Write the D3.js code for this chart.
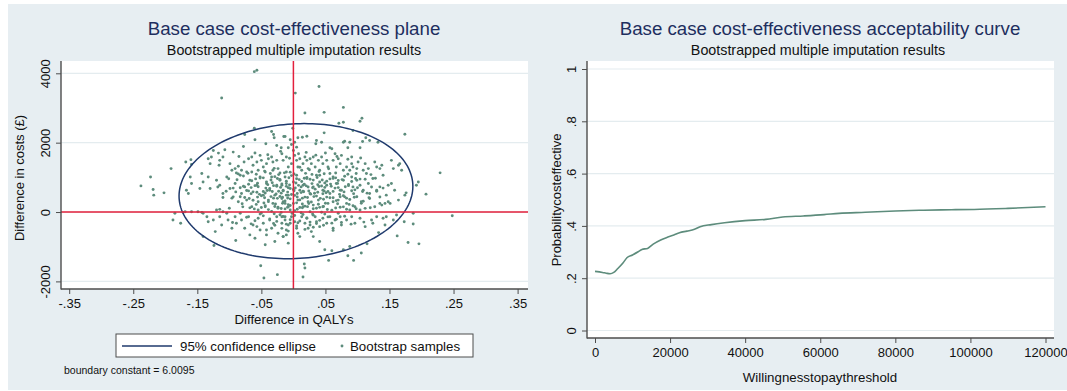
<!DOCTYPE html>
<html><head><meta charset="utf-8">
<script src="https://cdn.jsdelivr.net/npm/d3@7"></script>
<style>
body{margin:0;background:#fff}
svg{display:block}
text{font-family:"Liberation Sans",Arial,Helvetica,sans-serif}
</style>
</head><body>
<svg id="chart" width="1067" height="391"></svg>
<script>
// ---------- data ----------
const qalyTicks = [-0.35,-0.25,-0.15,-0.05,0.05,0.15,0.25,0.35];
const qalyTickLabels = ["-.35","-.25","-.15","-.05",".05",".15",".25",".35"];
const costTicks = [-2000,0,2000,4000];
const costTickLabels = ["-2000","0","2000","4000"];
const wtpTicks = [0,20000,40000,60000,80000,100000,120000];
const probTicks = [0,0.2,0.4,0.6,0.8,1];
const probTickLabels = ["0",".2",".4",".6",".8","1"];

// CEAC
const wtp = [0,2000,3000,4000,5000,6000,7500,8500,10000,11500,12500,14000,15500,17500,19000,21000,22500,24500,26500,28000,31000,34500,40000,45500,50000,55500,61000,65000,72000,80000,87500,95000,101000,110000,120000];
const probCE = [0.226,0.222,0.219,0.217,0.222,0.236,0.259,0.278,0.289,0.301,0.310,0.314,0.330,0.346,0.355,0.365,0.374,0.380,0.387,0.397,0.405,0.412,0.420,0.425,0.434,0.438,0.443,0.448,0.452,0.457,0.460,0.462,0.463,0.467,0.473];

// 95% confidence ellipse (QALY, cost)
const ellipseCentre = [0.004, 602];
const ellipseSemiAxes = [0.1825, 1943];
const ellipseCostShear = 140;

// bootstrap samples [difference in QALYs, difference in costs]
const bootstrapSamples = [
[-0.061,4048],[-0.057,4088],[-0.112,3286],[0.003,3429],[0.040,3619],[0.018,2856],[0.048,2874],[0.078,3017],[0.071,2559],[0.078,2588],[0.104,2617],[0.107,2703],[0.174,2244],[0.229,1130],[0.248,-105],[0.207,516],[0.195,868],[0.192,774],[0.176,553],[0.174,487],[0.187,-37],[0.187,-344],[0.173,-278],[0.179,-879],[0.196,-917],[0.162,-688],[0.133,-593],[0.115,-917],[0.094,-1395],[0.106,-1183],[0.085,-1261],[0.078,-1089],[0.088,-994],[0.055,-1395],[0.060,-1117],[0.049,-1089],[0.017,-1499],[0.018,-1613],[0.015,-1871],[0.041,-851],[0.031,-708],[0.028,-564],[0.023,-467],[0.010,-708],[0.007,-610],[-0.016,-708],[-0.011,-659],
[-0.238,754],[-0.223,1011],[-0.219,650],[-0.218,487],[-0.202,553],[-0.188,-229],[-0.176,-324],[-0.141,-708],[-0.124,-965],[-0.090,-822],[-0.051,-1547],[-0.046,-1900],[-0.025,-1805],[-0.191,1252],
[-0.061,2415],[-0.034,2321],[-0.031,2235],[-0.030,2140],[-0.076,2235],[-0.060,2083],[-0.043,1968],[-0.026,1920],[-0.015,2177],[-0.019,1853],[-0.078,1891],[-0.094,1728],[-0.107,1796],[-0.117,1699],[-0.125,1776],[-0.133,1538],[-0.128,1585],[-0.130,1395],[-0.115,1490],[-0.116,1347],[-0.110,1585],[-0.160,1510],[-0.168,1441],[-0.159,1375],
[-0.099,1395],[-0.091,1252],[-0.086,1318],[-0.081,1203],[-0.077,1441],[-0.070,1538],[-0.065,1585],[-0.063,1347],[-0.057,1441],[-0.052,1633],[-0.050,1490],[-0.047,1298],[-0.042,1395],[-0.039,1538],[-0.034,1585],[-0.032,1441],[-0.026,1490],[-0.024,1252],[-0.018,1682],[-0.016,1490],[-0.011,1585],[-0.008,1298],[-0.073,1155],[-0.065,1155],[-0.055,1203],[-0.044,1155],[-0.032,1203],[-0.021,1126],[-0.011,1155],[-0.089,1126],[-0.096,1203],
[-0.001,2415],[0.093,2350],[0.048,2283],[0.021,2186],[0.014,2157],[0.007,2140],[-0.013,2177],[-0.005,2083],[-0.003,1948],[0.002,2014],[0.005,1871],[-0.008,1853],[0.000,1776],
[0.036,2063],[0.035,1968],[0.044,2014],[0.057,1853],[0.060,1825],[0.078,2014],[0.080,2043],[0.088,2014],[0.085,1853],[0.104,1853],[0.108,2034],[0.113,2140],[0.119,2063],[0.132,2014],[0.091,1585],
[-0.003,1395],[0.002,1633],[0.005,1490],[0.007,1298],[0.010,1538],[0.013,1203],[0.015,1395],[0.018,1585],[0.021,1490],[0.023,1252],[0.026,1538],[0.028,1395],[0.031,1585],[0.034,1298],[0.039,1490],[0.041,1203],[0.044,1585],[0.046,1395],[0.052,1490],[0.054,1298],[0.062,1490],[0.065,1682],[0.067,1298],[0.070,1538],[0.073,1395],[0.075,1633],[0.078,1203],[0.083,1298],[0.088,1203],[0.091,1395],[0.093,1298],[0.099,1252],[0.101,1441],[0.109,1203],[0.112,1395],[0.117,1252],[0.127,1441],[0.130,1298],[0.135,1252],[0.138,1347],[0.156,1252],[0.164,1347],[0.169,1203],[0.166,1395],[0.153,1490],
[-0.167,630],[-0.164,535],[-0.161,1011],[-0.159,822],[-0.146,679],[-0.143,1109],[-0.141,868],[-0.133,1011],[-0.130,679],[-0.120,917],[-0.115,774],[-0.110,535],[-0.104,1011],[-0.099,679],[-0.094,438],[-0.091,822],[-0.086,295],[-0.083,1060],[-0.081,535],[-0.076,725],[-0.073,344],[-0.068,917],[-0.065,152],[-0.063,582],[-0.057,774],[-0.055,295],[-0.052,1011],[-0.047,487],[-0.044,152],[-0.042,822],[-0.039,344],[-0.037,630],[-0.034,1011],[-0.032,249],[-0.029,487],[-0.026,774],[-0.024,106],[-0.021,917],[-0.018,392],[-0.016,630],[-0.013,249],[-0.011,822],[-0.008,487],[-0.005,57],
[-0.185,-37],[-0.169,9],[-0.159,9],[-0.149,9],[-0.141,-37],[-0.135,-135],[-0.133,-278],[-0.125,-229],[-0.122,-564],[-0.115,-135],[-0.112,-372],[-0.104,-37],[-0.102,-229],[-0.096,-467],[-0.091,-135],[-0.089,-324],[-0.083,-37],[-0.081,-229],[-0.076,-467],[-0.070,-135],[-0.068,-659],[-0.063,-372],[-0.060,-754],[-0.055,-181],[-0.052,-516],[-0.047,-324],[-0.044,-945],[-0.042,-659],[-0.037,-229],[-0.034,-467],[-0.029,-851],[-0.026,-135],[-0.024,-610],[-0.018,-324],[-0.016,-708],[-0.013,-135],[-0.011,-516],[-0.008,-897],[-0.005,-324],
[-0.120,57],[-0.115,77],[-0.110,9],[-0.143,-9],[-0.172,-9],
[0.153,822],[0.148,774],[0.135,725],[0.130,630],[0.119,535],[0.109,630],[0.104,774],[0.093,725],[0.099,917],[0.091,1011],[0.114,1109],[0.124,965],[0.140,1060],[0.145,487],[0.135,249],[0.138,200],[0.143,249],[0.148,295],[0.127,152],[0.119,392],[0.106,295],[0.096,152],[0.088,57],[0.083,249],[0.080,438],[0.073,630],[0.067,822],[0.062,1011],[0.057,1109],[0.052,774],[0.046,630],[0.041,868],[0.036,1060],[0.031,725],[0.026,535],[0.021,965],[0.015,774],[0.010,630],[0.005,1060],[0.000,868],[-0.005,679],[-0.011,487],[-0.013,1011],[-0.018,774],[0.070,344],[0.062,295],[0.054,249],[0.046,152],[0.039,344],[0.031,200],[0.023,295],[0.015,152],[0.007,344],[0.000,249],[-0.008,152],[-0.016,295],[0.104,57],[0.112,106],[0.057,535],[0.078,917],[0.117,822],[0.158,630],[0.151,249],[0.164,344],
[-0.018,-135],[-0.013,-229],[-0.008,-372],[-0.003,-135],[0.002,-278],[0.005,-467],[0.013,-135],[0.018,-324],[0.021,-181],[0.026,-372],[0.034,-135],[0.036,-278],[0.041,-421],[0.046,-181],[0.052,-324],[0.057,-135],[0.062,-467],[0.065,-229],[0.073,-135],[0.075,-372],[0.083,-229],[0.091,-135],[0.096,-324],[0.104,-181],[0.112,-421],[0.122,-229],[0.124,-324],[0.130,-135],[0.140,-181],[0.143,-372],[0.145,-135],[0.156,-229],[0.161,-86],
[-0.078,1040],[-0.065,900],[-0.052,980],[-0.042,870],[-0.029,1020],[-0.021,940],[-0.011,890],[-0.003,1050],[0.005,960],[0.013,880],[0.021,1000],[0.031,920],[0.041,1060],[0.052,890],[0.062,970],[0.070,910],[0.080,1030],[0.091,880],[0.104,950],
[-0.083,700],[-0.073,620],[-0.060,760],[-0.047,590],[-0.037,680],[-0.026,740],[-0.016,610],[-0.008,700],[0.000,650],[0.008,770],[0.015,600],[0.023,720],[0.034,660],[0.044,750],[0.054,590],[0.065,690],[0.075,630],[0.086,760],[0.096,640],
[-0.076,420],[-0.063,340],[-0.050,470],[-0.039,300],[-0.031,400],[-0.021,450],[-0.013,320],[-0.005,380],[0.002,480],[0.010,350],[0.018,430],[0.028,290],[0.036,460],[0.047,370],[0.057,410],[0.067,330],[0.078,470],[0.088,360],[0.099,440],[0.109,310],
[-0.068,120],[-0.055,60],[-0.044,180],[-0.034,20],[-0.024,140],[-0.013,90],[-0.005,190],[0.002,40],[0.010,130],[0.018,170],[0.026,10],[0.036,110],[0.047,160],[0.060,50],[0.073,140],[0.083,80],[0.093,180],
[-0.073,-150],[-0.060,-250],[-0.047,-110],[-0.037,-200],[-0.026,-270],[-0.016,-130],[-0.005,-220],[0.002,-100],[0.010,-260],[0.021,-170],[0.031,-90],[0.041,-240],[0.054,-140],[0.067,-210],[0.080,-120],
[-0.057,-420],[-0.042,-520],[-0.029,-380],[-0.018,-470],[-0.008,-550],[0.005,-400],[0.018,-500],[0.031,-440],[0.047,-380],[0.062,-530],
[-0.045,1180],[-0.030,1260],[-0.005,1150],[0.010,1290],[0.025,1220],[0.040,1170],[0.055,1250],
[-0.070,800],[-0.056,830],[-0.040,790],[-0.033,845],[-0.018,810],[-0.006,780],[0.004,835],[0.017,800],[0.029,820],[0.038,790],[0.049,840],[0.058,805],[0.069,825],[0.086,795],
[-0.066,530],[-0.053,510],[-0.044,550],[-0.027,520],[-0.019,545],[-0.003,505],[0.006,535],[0.012,560],[0.027,515],[0.033,540],[0.046,525],[0.051,555],[0.072,510],[0.094,530],[0.115,545],
[-0.080,240],[-0.058,220],[-0.046,260],[-0.028,230],[-0.017,250],[-0.008,215],[0.005,265],[0.014,235],[0.024,245],[0.039,225],[0.050,255],[0.069,240],[0.087,220],[0.106,250],
[-0.050,-30],[-0.030,-50],[-0.019,-10],[-0.002,-40],[0.012,-20],[0.030,-55],[0.044,-5],[0.070,-35],
[-0.086,1100],[-0.071,1120],[-0.058,1090],[-0.036,1110],[-0.023,1080],[-0.014,1130],[0.001,1095],[0.019,1115],[0.029,1085],[0.048,1105],[0.066,1125],[0.085,1090],[0.098,1110],[0.121,1080],
[-0.101,960],[-0.088,930],[-0.059,955],[-0.047,985],[-0.035,925],[-0.025,965],[-0.007,990],[0.009,935],[0.017,975],[0.026,945],[0.037,995],[0.045,925],[0.057,955],[0.066,985],[0.076,935],[0.097,965],[0.112,945],[0.128,975],
[-0.118,720],[-0.094,690],[-0.078,745],[-0.066,705],[-0.055,730],[-0.043,690],[-0.031,760],[-0.020,710],[-0.011,740],[0.003,695],[0.012,725],[0.020,755],[0.030,700],[0.040,735],[0.049,710],[0.059,745],[0.070,705],[0.081,730],[0.100,700],[0.122,720],[0.140,690],
[-0.105,600],[-0.090,580],[-0.070,610],[-0.057,570],[-0.041,620],[-0.033,590],[-0.023,600],[-0.009,575],[0.001,615],[0.016,585],[0.024,605],[0.038,570],[0.048,610],[0.062,595],[0.079,580],[0.091,615],[0.108,590],[0.130,600],
[-0.110,420],[-0.096,400],[-0.083,440],[-0.069,390],[-0.056,430],[-0.045,410],[-0.035,445],[-0.025,395],[-0.017,425],[-0.009,405],[0.006,435],[0.014,400],[0.022,420],[0.032,445],[0.042,395],[0.052,430],[0.062,410],[0.073,440],[0.083,400],[0.095,425],[0.118,415],[0.135,435],
[-0.100,110],[-0.079,150],[-0.061,90],[-0.050,130],[-0.039,70],[-0.029,160],[-0.019,100],[-0.009,140],[0.006,80],[0.014,120],[0.022,155],[0.031,95],[0.041,135],[0.053,75],[0.066,115],[0.078,150],[0.098,95],[0.120,125],
[-0.095,-300],[-0.066,-340],[-0.052,-60],[-0.031,-330],[-0.021,-80],[-0.011,-350],[0.007,-310],[0.015,-70],[0.026,-290],[0.036,-330],[0.049,-60],[0.060,-320],[0.075,-300],[0.090,-350],[0.110,-290],
[-0.085,1600],[-0.060,1700],[-0.040,1650],[-0.020,1750],[-0.006,1550],[0.008,1680],[0.020,1720],[0.035,1640],[0.050,1700],[0.068,1600],[0.085,1520],[0.105,1560]
];

// ---------- drawing ----------
const svg = d3.select("#chart");
const BG = "#e7eef2", GRID = "#e4ecef", AXIS = "#4d4d4d";
const TITLE = "#1e2f5f", NAVY = "#1f3a6d", DOT = "#5d8c7c", RED = "#e3203d";

svg.append("rect").attr("x",8).attr("y",4).attr("width",1059).attr("height",386).attr("fill",BG);

// ===== Left panel =====
const L = {x0:61, x1:528, y0:61, y1:289};
const xL = d3.scaleLinear().domain([-0.35,0.35]).range([69.2,517.6]);
const yL = d3.scaleLinear().domain([-2000,4000]).range([281.4,73.3]);
const gL = svg.append("g");
gL.append("rect").attr("x",L.x0).attr("y",L.y0).attr("width",L.x1-L.x0).attr("height",L.y1-L.y0).attr("fill","#fff");
gL.selectAll("line.grid").data(costTicks).join("line").attr("class","grid")
  .attr("x1",L.x0).attr("x2",L.x1).attr("y1",d=>yL(d)).attr("y2",d=>yL(d))
  .attr("stroke",GRID).attr("stroke-width",1.2);

// samples
gL.selectAll("circle.s").data(bootstrapSamples).join("circle").attr("class","s")
  .attr("cx",d=>xL(d[0])).attr("cy",d=>yL(d[1])).attr("r",1.45).attr("fill",DOT);

// ellipse
const tt = d3.range(0, 2*Math.PI+0.001, Math.PI/90);
const ellPts = tt.map(t=>[ellipseCentre[0]+ellipseSemiAxes[0]*Math.cos(t),
                           ellipseCentre[1]+ellipseSemiAxes[1]*Math.sin(t)+ellipseCostShear*Math.cos(t)]);
gL.append("path").attr("d", d3.line().x(d=>xL(d[0])).y(d=>yL(d[1]))(ellPts))
  .attr("fill","none").attr("stroke",NAVY).attr("stroke-width",1.5);

// reference lines
gL.append("line").attr("x1",xL(0)).attr("x2",xL(0)).attr("y1",L.y0).attr("y2",L.y1).attr("stroke",RED).attr("stroke-width",1.5);
gL.append("line").attr("x1",L.x0).attr("x2",L.x1).attr("y1",yL(0)).attr("y2",yL(0)).attr("stroke",RED).attr("stroke-width",1.5);

// axes
const axL = gL.append("g").attr("transform",`translate(0,${L.y1})`)
  .call(d3.axisBottom(xL).tickValues(qalyTicks).tickFormat((d,i)=>qalyTickLabels[i]).tickSize(5).tickSizeOuter(0));
const ayL = gL.append("g").attr("transform",`translate(${L.x0},0)`)
  .call(d3.axisLeft(yL).tickValues(costTicks).tickFormat((d,i)=>costTickLabels[i]).tickSize(5).tickSizeOuter(0));

// ===== Right panel =====
const R = {x0:587, x1:1054, y0:61, y1:338};
const xR = d3.scaleLinear().domain([0,120000]).range([595,1045.5]);
const yR = d3.scaleLinear().domain([0,1]).range([330.5,69]);
const gR = svg.append("g");
gR.append("rect").attr("x",R.x0).attr("y",R.y0).attr("width",R.x1-R.x0).attr("height",R.y1-R.y0).attr("fill","#fff");
gR.selectAll("line.grid").data(probTicks).join("line").attr("class","grid")
  .attr("x1",R.x0).attr("x2",R.x1).attr("y1",d=>yR(d)).attr("y2",d=>yR(d))
  .attr("stroke",GRID).attr("stroke-width",1.2);
gR.append("path").datum(wtp.map((w,i)=>[w,probCE[i]]))
  .attr("d", d3.line().x(d=>xR(d[0])).y(d=>yR(d[1])).curve(d3.curveMonotoneX))
  .attr("fill","none").attr("stroke",DOT).attr("stroke-width",1.6);
const axR = gR.append("g").attr("transform",`translate(0,${R.y1})`)
  .call(d3.axisBottom(xR).tickValues(wtpTicks).tickFormat(d3.format("d")).tickSize(5).tickSizeOuter(0));
const ayR = gR.append("g").attr("transform",`translate(${R.x0},0)`)
  .call(d3.axisLeft(yR).tickValues(probTicks).tickFormat((d,i)=>probTickLabels[i]).tickSize(5).tickSizeOuter(0));

// axis styling
[axL, ayL, axR, ayR].forEach(a=>{
  a.select(".domain").remove();
  a.selectAll(".tick line").attr("stroke",AXIS).attr("stroke-width",1);
  a.selectAll(".tick text").attr("fill","#111").style("font-size","13px").attr("font-family",null);
});
[axL, axR].forEach(a=>a.selectAll(".tick text").attr("y",19).attr("dy",null));
[ayL, ayR].forEach(a=>a.selectAll(".tick text")
  .attr("transform","rotate(-90)").attr("x",0).attr("y",-11).attr("dy",null).attr("text-anchor","middle"));

// axis lines
function axisLines(P){
  svg.append("line").attr("x1",P.x0).attr("x2",P.x0).attr("y1",P.y0).attr("y2",P.y1+0.5).attr("stroke",AXIS).attr("stroke-width",1.4);
  svg.append("line").attr("x1",P.x0).attr("x2",P.x1).attr("y1",P.y1).attr("y2",P.y1).attr("stroke",AXIS).attr("stroke-width",1.4);
}
axisLines(L); axisLines(R);

// titles
function txt(x,y,s,size,color,anchor="middle",rot=false){
  const t = svg.append("text").attr("x",x).attr("y",y).attr("text-anchor",anchor)
    .attr("fill",color).style("font-size",size+"px").text(s);
  if(rot) t.attr("transform",`rotate(-90,${x},${y})`);
  return t;
}
txt(294,35,"Base case cost-effectiveness plane",18.7,TITLE);
txt(294,55,"Bootstrapped multiple imputation results",14.3,"#111");
txt(820,35,"Base case cost-effectiveness acceptability curve",18.7,TITLE);
txt(818,55,"Bootstrapped multiple imputation results",14.3,"#111");
txt(294,324,"Difference in QALYs",13.3,"#111");
txt(23.5,178,"Difference in costs (£)",13,"#111","middle",true);
txt(820,382,"Willingnesstopaythreshold",13.3,"#111");
txt(561,200,"Probabilitycosteffective",13,"#111","middle",true);

// legend
svg.append("rect").attr("x",116).attr("y",334).attr("width",357).attr("height",23)
  .attr("fill","#fff").attr("stroke",AXIS).attr("stroke-width",1);
svg.append("line").attr("x1",122).attr("x2",172).attr("y1",346).attr("y2",346).attr("stroke",NAVY).attr("stroke-width",1.5);
txt(180,351,"95% confidence ellipse",13.3,"#111","start");
svg.append("circle").attr("cx",342).attr("cy",346).attr("r",1.45).attr("fill",DOT);
txt(350,351,"Bootstrap samples",13.3,"#111","start");
txt(64,374,"boundary constant = 6.0095",10.5,"#111","start");
</script>
</body></html>
